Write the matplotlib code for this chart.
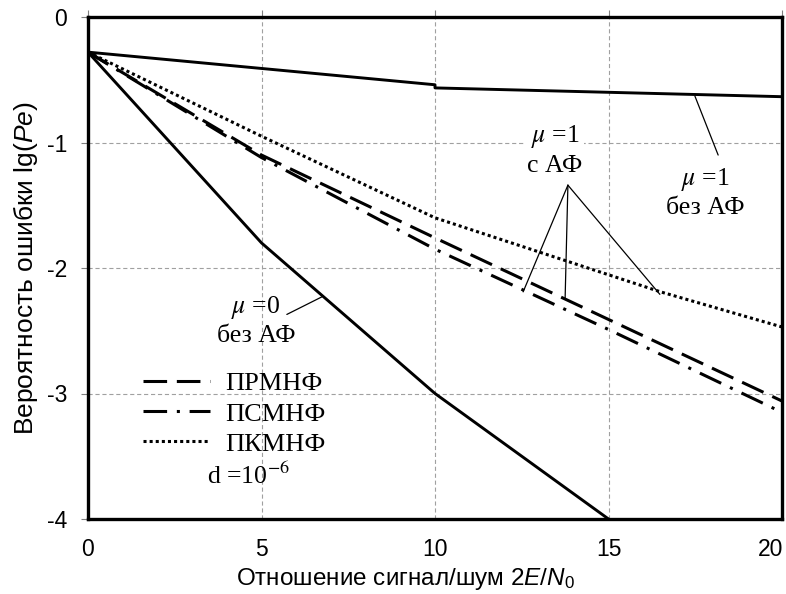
#!/usr/bin/env python3
"""Вероятность ошибки vs отношение сигнал/шум"""

import matplotlib
matplotlib.use("Agg")
import matplotlib.pyplot as plt
from matplotlib.transforms import ScaledTranslation

plt.rcParams['font.family'] = ['Liberation Sans', 'DejaVu Sans']
plt.rcParams['mathtext.fontset'] = 'custom'
plt.rcParams['mathtext.rm'] = 'Liberation Sans'
plt.rcParams['mathtext.it'] = 'Liberation Sans:italic'
plt.rcParams['lines.scale_dashes'] = False

# data
x_mu1 = [0, 5, 10, 10, 15, 20]
y_mu1 = [-0.28, -0.41, -0.54, -0.565, -0.60, -0.635]

x_mu0 = [0, 5, 10, 15]
y_mu0 = [-0.28, -1.80, -3.0, -4.0]

x_af = [0, 5, 10, 15, 20]
y_prm = [-0.28, -1.10, -1.76, -2.41, -3.06]
y_psm = [-0.28, -1.12, -1.85, -2.49, -3.15]

x_pkm = [0, 5, 10, 16.5, 20]
y_pkm = [-0.28, -0.95, -1.60, -2.19, -2.47]

legend_labels = ['ПРМНФ', 'ПСМНФ', 'ПКМНФ']
xticks = [0, 5, 10, 15, 20]
yticks = [0, -1, -2, -3, -4]


def main():
    fig = plt.figure(figsize=(7.86, 5.94), dpi=100)
    ax = fig.add_axes([88 / 786, 75 / 594, 694 / 786, 502 / 594])

    ax.plot(x_mu1, y_mu1, color='black', lw=2.1)
    ax.plot(x_mu0, y_mu0, color='black', lw=2.1)
    l1, = ax.plot(x_af, y_prm, color='black', lw=2.2,
                  linestyle=(0, (17, 7)))
    l2, = ax.plot(x_af, y_psm, color='black', lw=2.2,
                  linestyle=(0, (17, 7, 2.2, 7)))
    l3, = ax.plot(x_pkm, y_pkm, color='black', lw=2.2,
                  linestyle=(0, (2.2, 2.2)))

    ax.set_xlim(0, 20)
    ax.set_ylim(-4, 0)
    ax.set_xticks(xticks)
    ax.set_yticks(yticks)
    ax.set_yticklabels([str(v) for v in yticks])
    ax.grid(True, color='#a0a0a0', lw=0.8, linestyle=(0, (3, 2)))
    for s in ax.spines.values():
        s.set_linewidth(2.4)
    ax.tick_params(axis='x', top=True, bottom=False, labelbottom=True,
                   length=5, width=0.8, color='#808080', labelsize=16.5,
                   pad=9)
    ax.tick_params(axis='y', length=5, width=0.8, color='#808080',
                   labelsize=16.5, pad=10)
    # the last x label sits against the right edge, as in the original
    last = ax.get_xticklabels()[-1]
    last.set_transform(last.get_transform() +
                       ScaledTranslation(-0.11, 0, fig.dpi_scale_trans))

    ax.set_xlabel(r'Отношение сигнал/шум 2$\mathit{E}$/$\mathit{N}_0$',
                  fontsize=17.5, labelpad=3, x=0.457)
    ax.set_ylabel(r'Вероятность ошибки lg($\mathit{Pe}$)', fontsize=19,
                  labelpad=5)

    serif = dict(family='Liberation Serif', math_fontfamily='stix',
                 ha='center', va='center', fontsize=18.5, linespacing=1.25)
    white = dict(facecolor='white', edgecolor='none', pad=1)

    ax.text(13.46, -1.06, '$\\mu$ =1\nс АФ', bbox=white, **serif)
    ax.text(17.8, -1.40, '$\\mu$ =1\nбез АФ', bbox=white, **serif)
    ax.text(4.84, -2.42, '$\\mu$ =0\nбез АФ', **serif)
    ax.text(4.61, -3.66, 'd =10$^{-6}$', **serif)

    leader = dict(arrowstyle='-', color='black', lw=0.9,
                  shrinkA=0, shrinkB=0)
    src = (13.83, -1.34)
    for tgt in [(12.54, -2.19), (13.75, -2.24), (16.48, -2.21)]:
        ax.annotate('', xy=tgt, xytext=src, arrowprops=leader)
    ax.annotate('', xy=(17.49, -0.63), xytext=(18.16, -1.10),
                arrowprops=leader)
    ax.annotate('', xy=(6.74, -2.23), xytext=(5.73, -2.37),
                arrowprops=leader)

    ax.legend([l1, l2, l3], legend_labels, loc='upper left',
              bbox_to_anchor=(143 / 786, 1 - 372 / 594),
              bbox_transform=fig.transFigure, frameon=False,
              prop={'family': 'Liberation Serif', 'size': 19},
              handlelength=2.55, handletextpad=0.55, labelspacing=0.25,
              borderpad=0, borderaxespad=0)

    plt.savefig("out.png", dpi=100)


if __name__ == "__main__":
    main()
